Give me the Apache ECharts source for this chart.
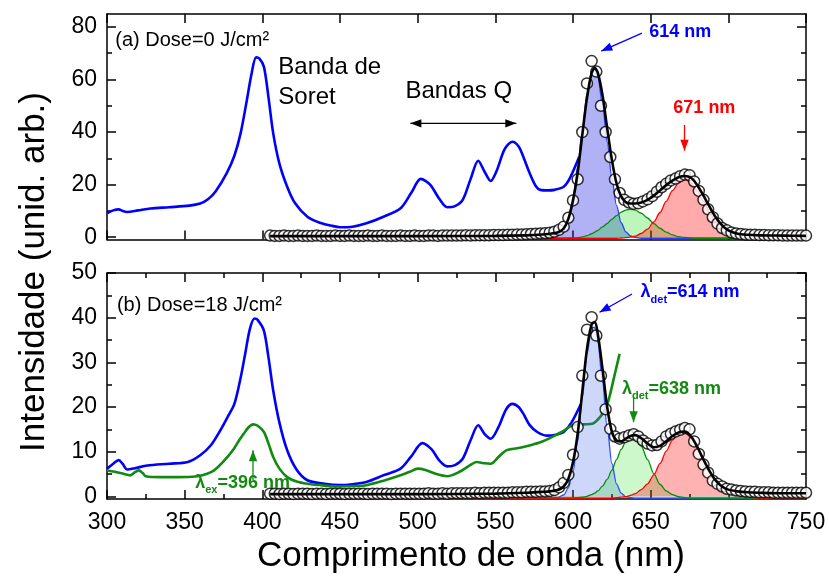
<!DOCTYPE html>
<html>
<head>
<meta charset="utf-8">
<script src="https://cdn.jsdelivr.net/npm/echarts@6/dist/echarts.min.js"></script>
<style>
  html, body { margin: 0; padding: 0; background: #fff; }
  #main { width: 829px; height: 580px; }
</style>
</head>
<body>
<div id="main"></div>
<script>
// ---------- data ----------
// Tick values
const xTicks = [300, 350, 400, 450, 500, 550, 600, 650, 700, 750];
const xMinorTicks = [325, 375, 425, 475, 525, 575, 625, 675, 725];
const yTicksTop = [0, 20, 40, 60, 80];
const yMinorTop = [10, 30, 50, 70];
const yTicksBot = [0, 10, 20, 30, 40, 50];
const yMinorBot = [5, 15, 25, 35, 45];

// Excitation spectrum, dose 0 (blue)
const exWlTop = [300,304,307.5,310,313,320,328,340,353,360,365,370,377,382,386,390,393,396,398,401,404,407,411,416,421,429,437,445,450,458,467,478,489,496,502,508,514,519,524,529,534,539,543,547,551,556,561,565,568,572,576,579,584,588,594,598,604];
const exTop = [9.1,10.2,10.6,10.0,9.6,10.2,10.9,11.4,12.0,12.8,14.4,17.5,24.3,31.0,39.5,52.0,62.0,68.4,68.0,64.9,53.0,39.5,28.0,19.2,13.0,7.8,5.5,4.3,3.8,4.0,5.3,7.8,11.0,17.0,22.2,20.0,14.5,11.4,11.8,14.2,22.0,29.1,25.0,21.4,25.5,33.5,36.3,34.5,30.6,24.5,19.5,18.0,17.8,18.0,19.2,22.5,30.6];

// Excitation spectra, dose 18 J/cm2 (blue: det 614 nm, green: det 638 nm)
const exWlBot = [300,304,307.5,310,313,318,326,340,352,360,367,373,378,382,386,389,392,395,397,401,404,407,411,416,422,429,440,450,458,467,478,489,496,503,509,514,519,524,529,534,539,543,547,552,557,561,565,568,572,577,583,589,594,599,605];
const exBot = [6.2,7.3,8.1,7.3,6.0,6.3,6.9,7.3,7.7,9.2,11.5,14.8,18.0,20.7,26.5,32.0,37.5,39.8,39.5,37.1,31.0,23.7,16.5,10.3,6.0,3.6,2.8,2.5,2.7,3.2,4.7,6.2,9.0,11.9,10.5,8.0,6.7,7.0,8.4,12.5,15.9,14.0,12.9,15.5,19.5,20.7,20.0,18.5,16.0,14.4,13.6,13.8,14.4,16.5,20.6];
const grWlBot = [300,305,310,315,318,320.5,323,325,335,345,358,364,369,375,381,385,388,391,394,397,401,404,407,411,416,422,429,440,450,460,467,478,489,495,500,505,512,519,527,533,538,543,547,552,557,565,572,579,586,593,600,607,613,616,619,622,624,627,630];
const grBot = [5.8,5.5,5.1,4.7,5.4,5.8,5.2,4.5,4.3,4.3,4.5,5.0,5.8,7.8,10.3,12.5,14.0,15.4,16.1,15.8,14.4,11.8,8.8,6.2,4.3,3.3,2.8,2.4,2.2,2.3,2.5,3.5,4.7,5.5,6.2,5.9,5.0,4.5,5.5,6.8,7.7,7.4,7.3,8.8,10.3,10.8,11.4,12.1,13.2,14.5,15.9,16.1,16.3,17.2,18.5,20.5,23.0,27.5,31.9];

// Emission spectra (open circles), 405-750 nm
const emWl = [405,408,411,414,417,420,423,426,429,432,435,438,441,444,447,450,453,456,459,462,465,468,471,474,477,480,483,486,489,492,495,498,501,504,507,510,513,516,519,522,525,528,531,534,537,540,543,546,549,552,555,558,561,564,567,570,573,576,579,582,585,588,591,594,597,600,603,606,609,612,615,618,621,624,627,630,633,636,639,642,645,648,651,654,657,660,663,666,669,672,675,678,681,684,687,690,693,696,699,702,705,708,711,714,717,720,723,726,729,732,735,738,741,744,747,750];
const emTop = [0.6,0.5,0.5,0.6,0.5,0.5,0.6,0.5,0.5,0.5,0.6,0.5,0.5,0.5,0.6,0.5,0.5,0.6,0.5,0.5,0.5,0.6,0.5,0.5,0.6,0.5,0.5,0.5,0.6,0.5,0.5,0.6,0.5,0.5,0.6,0.6,0.5,0.6,0.6,0.6,0.6,0.6,0.7,0.6,0.7,0.7,0.7,0.7,0.8,0.8,
  0.8,0.9,0.9,1.0,1.0,1.1,1.2,1.3,1.4,1.5,1.7,2.1,2.8,4.0,7.4,14.0,22.0,40.0,58.5,67.0,63.0,50.0,40.0,30.5,22.0,16.8,14.2,13.2,12.7,12.9,13.6,14.4,15.6,17.3,19.0,20.3,21.6,22.3,23.2,23.8,23.6,21.2,17.6,14.2,10.6,7.6,5.2,3.5,2.6,1.8,1.4,1.2,1.0,0.9,0.9,0.8,0.8,0.7,0.7,0.7,0.6,0.6,0.6,0.6,0.6,0.6];
const emBot = [0.6,0.6,0.5,0.6,0.6,0.5,0.6,0.6,0.6,0.5,0.6,0.6,0.5,0.6,0.6,0.6,0.5,0.6,0.6,0.6,0.6,0.5,0.6,0.6,0.6,0.6,0.5,0.6,0.6,0.6,0.6,0.6,0.6,0.6,0.7,0.6,0.6,0.7,0.6,0.7,0.7,0.7,0.7,0.7,0.8,0.7,0.8,0.8,0.8,0.8,
  0.8,0.8,0.9,0.9,0.9,1.0,1.0,1.0,1.1,1.1,1.2,1.4,2.0,3.0,4.8,9.3,15.5,27.0,37.3,40.1,36.0,27.0,19.5,15.1,13.4,12.9,13.2,13.6,13.9,13.4,12.5,11.8,11.4,11.5,12.3,13.4,14.0,14.5,14.9,15.3,15.0,12.3,9.5,7.1,5.3,3.5,2.8,2.2,1.7,1.5,1.3,1.2,1.1,1.0,1.0,0.9,0.9,0.9,0.8,0.8,0.8,0.8,0.8,0.8,0.8,0.8];

// Multi-peak fit: total curve and its three bands
const fitWl = [405,450,500,550,570,580,585,590,594,597,600,603,606,609,612,614,616,619,622,625,628,631,634,637,640,644,648,652,656,660,664,668,672,676,680,684,688,692,696,700,706,712,720,735,750];
const fitTop = [0.4,0.4,0.4,0.5,0.7,1.0,1.3,1.8,3.3,7.0,14.0,24.5,39.0,53.0,62.5,64.3,62.5,54.0,41.5,29.5,20.5,15.5,13.3,12.8,12.8,13.2,14.2,15.8,17.8,19.8,21.5,22.8,23.3,22.6,19.8,15.8,11.5,7.5,4.5,2.6,1.3,0.9,0.7,0.6,0.5];
const band614Top = [-0.4,-0.4,-0.4,-0.4,-0.4,-0.4,-0.3,0.5,2.9,7.2,15.1,26.8,41.0,54.5,62.8,63.8,60.8,50.4,36.2,22.5,12.1,5.5,2.0,0.5,-0.1,-0.4,-0.4,-0.4,-0.4,-0.4,-0.4,-0.4,-0.4,-0.4,-0.4,-0.4,-0.4,-0.4,-0.4,-0.4,-0.4,-0.4,-0.4,-0.4,-0.4];
const band638Top = [-0.4,-0.4,-0.4,-0.4,-0.4,-0.4,-0.4,-0.4,-0.4,-0.3,-0.3,-0.2,0.1,0.6,1.3,1.9,2.6,3.9,5.2,6.8,8.2,9.5,10.3,10.6,10.3,9.1,7.3,5.2,3.4,1.9,0.9,0.2,-0.1,-0.3,-0.4,-0.4,-0.4,-0.4,-0.4,-0.4,-0.4,-0.4,-0.4,-0.4,-0.4];
const band671Top = [-0.4,-0.4,-0.4,-0.4,-0.4,-0.4,-0.4,-0.4,-0.4,-0.4,-0.4,-0.4,-0.4,-0.4,-0.4,-0.4,-0.4,-0.4,-0.4,-0.4,-0.4,-0.3,-0.2,0.0,0.4,1.4,3.1,5.8,9.4,13.6,17.7,20.7,22.0,20.7,17.7,13.6,9.4,5.8,3.1,1.4,0.1,-0.3,-0.4,-0.4,-0.4];
const fitBot = [0.5,0.5,0.5,0.6,0.8,1.0,1.1,1.4,2.2,3.9,7.6,14.0,23.5,33.0,38.5,39.0,36.3,28.5,20.0,14.5,12.5,12.3,12.9,13.5,13.7,13.0,11.8,11.0,11.3,12.3,13.5,14.3,14.5,13.4,11.1,8.2,5.6,3.5,2.2,1.5,1.1,0.9,0.8,0.7,0.7];
const band614Bot = [-0.4,-0.4,-0.4,-0.4,-0.4,-0.4,-0.4,-0.3,0.3,1.9,5.5,12.3,22.0,31.9,37.8,37.8,34.5,25.5,15.3,7.4,2.8,0.7,-0.1,-0.3,-0.4,-0.4,-0.4,-0.4,-0.4,-0.4,-0.4,-0.4,-0.4,-0.4,-0.4,-0.4,-0.4,-0.4,-0.4,-0.4,-0.4,-0.4,-0.4,-0.4,-0.4];
const band638Bot = [-0.4,-0.4,-0.4,-0.4,-0.4,-0.4,-0.4,-0.4,-0.4,-0.4,-0.4,-0.3,-0.2,0.0,0.4,0.7,1.2,2.3,3.8,5.8,8.2,10.5,12.3,13.2,13.0,11.2,8.2,5.1,2.7,1.2,0.4,-0.1,-0.3,-0.4,-0.4,-0.4,-0.4,-0.4,-0.4,-0.4,-0.4,-0.4,-0.4,-0.4,-0.4];
const band671Bot = [-0.4,-0.4,-0.4,-0.4,-0.4,-0.4,-0.4,-0.4,-0.4,-0.4,-0.4,-0.4,-0.4,-0.4,-0.4,-0.4,-0.4,-0.4,-0.4,-0.4,-0.3,-0.2,-0.1,0.2,0.6,1.5,2.8,4.8,7.3,10.1,12.6,14.1,14.3,13.1,10.8,8.0,5.4,3.2,1.8,0.9,0.2,-0.2,-0.4,-0.4,-0.4];

// ---------- styling ----------
const FONT = 'Liberation Sans, Arial, Helvetica, sans-serif';
const BLUE = '#0000ff';
const GREEN = '#128a12';
const RED = '#ff0000';

const pairs = (xs, ys) => xs.map((x, i) => [x, ys[i]]);

function xAxis(grid, pos, ticks, len, labels, showLine) {
  return {
    type: 'value', gridIndex: grid, position: pos, min: 300, max: 750,
    axisLine: { show: showLine, onZero: false, lineStyle: { color: '#000', width: 1.5 } },
    axisTick: { show: true, inside: true, length: len, customValues: ticks, lineStyle: { color: '#000', width: 1.5 } },
    axisLabel: labels ? { show: true, customValues: labels, margin: 12, fontSize: 23, color: '#000', fontFamily: FONT } : { show: false },
    splitLine: { show: false }
  };
}
function yAxis(grid, pos, min, max, ticks, len, labels, showLine) {
  return {
    type: 'value', gridIndex: grid, position: pos, min: min, max: max,
    axisLine: { show: showLine, onZero: false, lineStyle: { color: '#000', width: 1.5 } },
    axisTick: { show: true, inside: true, length: len, customValues: ticks, lineStyle: { color: '#000', width: 1.5 } },
    axisLabel: labels ? { show: true, customValues: labels, margin: 10, fontSize: 23, color: '#000', fontFamily: FONT } : { show: false },
    splitLine: { show: false }
  };
}

const TOP_MIN = -0.84, TOP_MAX = 84.9;
const BOT_MIN = -0.6, BOT_MAX = 50;

const xAxes = [
  xAxis(0, 'bottom', xTicks, 9, null, true),       // 0
  xAxis(0, 'top', xTicks, 9, null, true),          // 1
  xAxis(1, 'bottom', xTicks, 9, xTicks, true),     // 2
  xAxis(1, 'top', xTicks, 9, null, true),          // 3
  xAxis(1, 'bottom', xMinorTicks, 5, null, false), // 4
  xAxis(1, 'top', xMinorTicks, 5, null, false)     // 5
];
const yAxes = [
  yAxis(0, 'left', TOP_MIN, TOP_MAX, yTicksTop, 9, yTicksTop, true),  // 0
  yAxis(0, 'right', TOP_MIN, TOP_MAX, yTicksTop, 9, null, true),      // 1
  yAxis(0, 'left', TOP_MIN, TOP_MAX, yMinorTop, 5, null, false),      // 2
  yAxis(0, 'right', TOP_MIN, TOP_MAX, yMinorTop, 5, null, false),     // 3
  yAxis(1, 'left', BOT_MIN, BOT_MAX, yTicksBot, 9, yTicksBot, true),  // 4
  yAxis(1, 'right', BOT_MIN, BOT_MAX, yTicksBot, 9, null, true),      // 5
  yAxis(1, 'left', BOT_MIN, BOT_MAX, yMinorBot, 5, null, false),      // 6
  yAxis(1, 'right', BOT_MIN, BOT_MAX, yMinorBot, 5, null, false)      // 7
];

const AX = [{ x: 0, y: 0 }, { x: 2, y: 4 }];

function curve(panel, xs, ys, color, width, z) {
  return {
    type: 'line', xAxisIndex: AX[panel].x, yAxisIndex: AX[panel].y,
    data: pairs(xs, ys), showSymbol: false, symbol: 'none', smooth: 0.3,
    lineStyle: { color: color, width: width }, z: z, silent: true
  };
}
function band(panel, ys, lineColor, fillColor) {
  return {
    type: 'line', xAxisIndex: AX[panel].x, yAxisIndex: AX[panel].y,
    data: pairs(fitWl, ys), showSymbol: false, symbol: 'none', smooth: 0.3, smoothMonotone: 'x',
    lineStyle: { color: lineColor, width: 1.3 },
    areaStyle: { color: fillColor, opacity: 1 }, z: 3, silent: true
  };
}
function circles(panel, ys) {
  return {
    type: 'scatter', xAxisIndex: AX[panel].x, yAxisIndex: AX[panel].y,
    data: pairs(emWl, ys), symbol: 'circle', symbolSize: 11,
    itemStyle: { color: '#fff', borderColor: '#000', borderWidth: 1.5 }, z: 4, silent: true
  };
}

const series = [
  curve(0, exWlTop, exTop, BLUE, 2.6, 2),
  band(0, band614Top, '#2a3cff', 'rgba(40,40,230,0.36)'),
  band(0, band638Top, '#0a8a0a', 'rgba(0,220,0,0.26)'),
  band(0, band671Top, RED, 'rgba(255,0,0,0.33)'),
  circles(0, emTop),
  curve(0, fitWl, fitTop, '#000', 2.6, 5),

  curve(1, exWlBot, exBot, BLUE, 2.6, 2),
  curve(1, grWlBot, grBot, GREEN, 2.6, 2),
  band(1, band614Bot, '#3050ff', 'rgba(60,100,230,0.26)'),
  band(1, band638Bot, '#0a8a0a', 'rgba(0,220,0,0.20)'),
  band(1, band671Bot, RED, 'rgba(255,0,0,0.30)'),
  circles(1, emBot),
  curve(1, fitWl, fitBot, '#000', 2.6, 5)
];

const option = {
  animation: false,
  backgroundColor: '#fff',
  textStyle: { fontFamily: FONT },
  grid: [
    { left: 107, right: 23, top: 14, height: 225.4, outerBoundsMode: 'none' },
    { left: 107, right: 23, top: 273, height: 226, outerBoundsMode: 'none' }
  ],
  xAxis: xAxes,
  yAxis: yAxes,
  series: series
};

const chart = echarts.init(document.getElementById('main'), null, { renderer: 'canvas' });
chart.setOption(option);

// ---------- annotations (data coordinates of each panel) ----------
const notes = [
  { panel: 0, at: [305.3, 75.0], text: '(a) Dose=0 J/cm²', size: 20, color: '#000' },
  { panel: 0, at: [410.3, 64.5], text: 'Banda de', size: 24, color: '#000' },
  { panel: 0, at: [410.3, 53.2], text: 'Soret', size: 24, color: '#000' },
  { panel: 0, at: [492.1, 55.4], text: 'Bandas Q', size: 24, color: '#000' },
  { panel: 0, at: [649.1, 78.2], text: '614 nm', size: 18, color: BLUE, bold: true },
  { panel: 0, at: [664.6, 49.2], text: '671 nm', size: 18, color: RED, bold: true },
  { panel: 1, at: [306.4, 42.7], text: '(b) Dose=18 J/cm²', size: 20, color: '#000' },
  { panel: 1, at: [643.5, 45.7], sym: 'λ', sub: 'det', rest: '=614 nm', color: BLUE },
  { panel: 1, at: [631.5, 24.1], sym: 'λ', sub: 'det', rest: '=638 nm', color: GREEN },
  { panel: 1, at: [356.8, 3.0], sym: 'λ', sub: 'ex', rest: '=396 nm', color: GREEN }
];
const arrows = [
  { panel: 0, from: [495.3, 43.3], to: [563.5, 43.3], color: '#000', both: true },
  { panel: 0, from: [644.4, 77.6], to: [618.2, 70.8], color: BLUE },
  { panel: 0, from: [671.8, 42.7], to: [671.8, 32.9], color: RED },
  { panel: 1, from: [638.0, 45.3], to: [617.1, 41.2], color: BLUE },
  { panel: 1, from: [639.0, 22.2], to: [639.0, 16.6], color: GREEN },
  { panel: 1, from: [394.0, 3.6], to: [394.0, 10.3], color: GREEN }
];

function toPx(panel, p) {
  return chart.convertToPixel({ xAxisIndex: AX[panel].x, yAxisIndex: AX[panel].y }, p);
}
function head(a, b, color) {
  const dx = b[0] - a[0], dy = b[1] - a[1], L = Math.hypot(dx, dy);
  const ux = dx / L, uy = dy / L, hl = 11, hw = 4.2;
  const bx = b[0] - ux * hl, by = b[1] - uy * hl;
  return {
    type: 'polygon', z: 100, silent: true,
    shape: { points: [[b[0], b[1]], [bx - uy * hw, by + ux * hw], [bx + uy * hw, by - ux * hw]] },
    style: { fill: color }
  };
}

const graphics = [];
notes.forEach(n => {
  const p = toPx(n.panel, n.at);
  if (n.sym) {
    graphics.push({
      type: 'text', z: 100, silent: true, x: p[0], y: p[1],
      style: {
        text: '{a|' + n.sym + '}{b|' + n.sub + '}{a|' + n.rest + '}',
        fill: n.color, align: 'left', verticalAlign: 'middle',
        textAlign: 'left', textVerticalAlign: 'middle',
        rich: {
          a: { fontSize: 18, fontWeight: 'bold', fontFamily: FONT, fill: n.color, color: n.color },
          b: { fontSize: 11, fontWeight: 'bold', fontFamily: FONT, fill: n.color, color: n.color, padding: [15, 0, 0, 0] }
        }
      }
    });
  } else {
    graphics.push({
      type: 'text', z: 100, silent: true, x: p[0], y: p[1],
      style: {
        text: n.text, fill: n.color,
        font: (n.bold ? 'bold ' : '') + n.size + 'px ' + FONT,
        align: 'left', verticalAlign: 'middle', textAlign: 'left', textVerticalAlign: 'middle'
      }
    });
  }
});
arrows.forEach(a => {
  const p0 = toPx(a.panel, a.from), p1 = toPx(a.panel, a.to);
  graphics.push({
    type: 'line', z: 99, silent: true,
    shape: { x1: p0[0], y1: p0[1], x2: p1[0], y2: p1[1] },
    style: { stroke: a.color, lineWidth: 1.3 }
  });
  graphics.push(head(p0, p1, a.color));
  if (a.both) graphics.push(head(p1, p0, a.color));
});

// axis titles
graphics.push({
  type: 'text', z: 100, silent: true, x: 471, y: 556,
  style: { text: 'Comprimento de onda (nm)', fill: '#000', font: '35px ' + FONT,
    align: 'center', verticalAlign: 'middle', textAlign: 'center', textVerticalAlign: 'middle' }
});
graphics.push({
  type: 'text', z: 100, silent: true, x: 34, y: 272, rotation: Math.PI / 2,
  style: { text: 'Intensidade (unid. arb.)', fill: '#000', font: '35px ' + FONT,
    align: 'center', verticalAlign: 'middle', textAlign: 'center', textVerticalAlign: 'middle' }
});

chart.setOption({ graphic: graphics });
</script>
</body>
</html>
